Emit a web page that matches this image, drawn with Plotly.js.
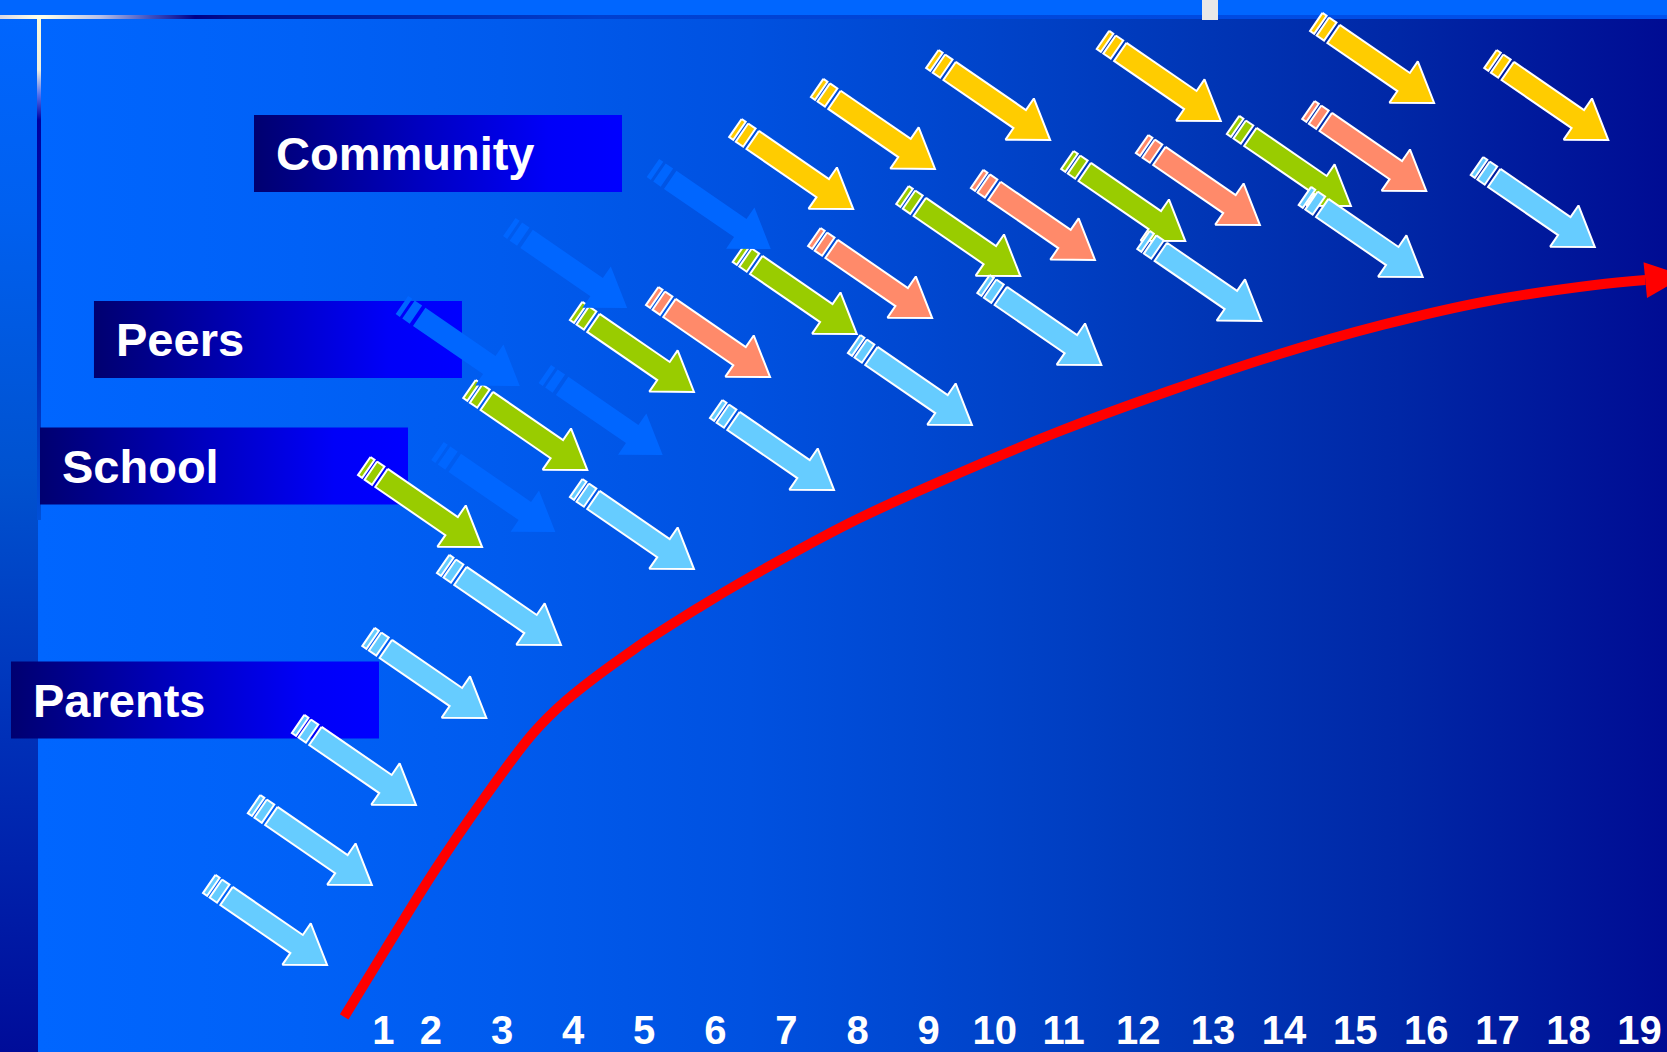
<!DOCTYPE html>
<html><head><meta charset="utf-8">
<script src="https://cdn.plot.ly/plotly-3.0.1.min.js"></script>
<style>html,body{margin:0;padding:0;overflow:hidden;background:#0066ff}#chart{width:1667px;height:1052px}</style>
</head><body><div id="chart"></div>
<script>
// ---------------- DATA ----------------
const ageLabels = ['1','2','3','4','5','6','7','8','9','10','11','12','13','14','15','16','17','18','19'];
const agePositions = [1.33,2,3,4,5,6,7,8,9,9.93,10.9,11.95,13,14,15,16,17,18,19];

const sources = ['Parents','School','Peers','Community'];
const sourceBoxX = [-3.906,-3.498,-2.739,-0.488];   // left edge of each label box (age units)
const sourceBoxY = [33.46,55.70,67.73,85.41];       // centre of each label box (influence units)

// arrow tips (age, influence)
const parentsX = [0.54,1.17,1.79,2.78,3.83,5.70,7.67,9.61,11.43,13.68,15.95,18.37];
const parentsY = [8.27,15.87,23.48,31.75,38.69,45.91,53.42,59.60,65.30,69.49,73.67,76.52];
const schoolX  = [2.72,4.20,5.70,7.99,10.29,12.61,14.94];
const schoolY  = [48.00,55.32,62.74,68.25,73.76,77.09,80.42];
const peersX   = [6.77,9.05,11.34,13.66,16.00];
const peersY   = [64.16,69.77,75.29,78.61,81.84];
const communityX = [7.94,9.09,10.71,13.11,16.11,18.56];
const communityY = [80.13,83.94,86.69,88.50,90.21,86.69];
const ghostX   = [3.25,3.75,4.76,5.26,6.78];
const ghostY   = [63.31,49.43,70.72,56.75,76.33];

// development curve
const curveX = [0.78,1.33,2.03,2.73,3.44,3.91,4.84,5.78,6.49,7.89,9.40,10.89,12.38,13.89,15.38,16.87,18.37,19.08];
const curveY = [3.33,9.41,17.02,23.95,30.32,33.46,38.21,42.30,45.15,50.29,54.94,59.13,62.83,66.25,69.11,71.39,72.91,73.38];

// ---------------- SCALES ----------------
const W = 1667, H = 1052;
const X0 = -4.0605, X1 = 19.3854, Y0 = 0, Y1 = 100;
const kx = W / (X1 - X0), ky = H / (Y1 - Y0);
const dX = px => X0 + px / kx;           // page px -> x data
const dY = py => Y1 - py / ky;           // page px -> y data

// ---------------- HELPERS ----------------
function rect(x0, x1, y0, y1, opts) {
  return Object.assign({
    type: 'scatter', mode: 'lines', fill: 'toself',
    x: [x0, x1, x1, x0, x0], y: [y0, y0, y1, y1, y0],
    line: {width: 0, color: 'rgba(0,0,0,0)'}, hoverinfo: 'skip', showlegend: false
  }, opts);
}
const A = {L: 143, ang: 34.5, body: 11, head: 25, headLen: 37, stripes: [[0,5],[8,17]], bodyStart: 21};
function arrowTrace(xs, ys, color, outline) {
  const a = A.ang * Math.PI / 180, ux = Math.cos(a), uy = Math.sin(a);
  const X = [], Y = [];
  xs.forEach((tx, i) => {
    const ty = ys[i];
    const P = (u, v) => {
      const px = (u - A.L) * ux - v * uy;
      const py = (u - A.L) * uy + v * ux;
      X.push(tx + px / kx); Y.push(ty - py / ky);
    };
    A.stripes.forEach(s => {
      P(s[0], -A.body); P(s[1], -A.body); P(s[1], A.body); P(s[0], A.body); P(s[0], -A.body);
      X.push(null); Y.push(null);
    });
    const hb = A.L - A.headLen;
    P(A.bodyStart, -A.body); P(hb, -A.body); P(hb, -A.head); P(A.L, 0);
    P(hb, A.head); P(hb, A.body); P(A.bodyStart, A.body); P(A.bodyStart, -A.body);
    X.push(null); Y.push(null);
  });
  return {type: 'scatter', mode: 'lines', fill: 'toself', x: X, y: Y, fillcolor: color,
    line: outline ? {color: '#ffffff', width: 2} : {width: 0, color: 'rgba(0,0,0,0)'},
    hoverinfo: 'skip', showlegend: false};
}

const traces = [];
// background horizontal gradient
traces.push(rect(X0, X1, Y0, Y1, {fillgradient: {type: 'horizontal', start: dX(0), stop: dX(W),
  colorscale: [[0,'#0066ff'],[40/W,'#0066ff'],[300/W,'#0061f7'],[500/W,'#005bee'],[750/W,'#0051e0'],
               [1000/W,'#0043c9'],[1200/W,'#0036b6'],[1400/W,'#0027a6'],[1.0,'#000c93']]}}));
// left strip vertical gradient
traces.push(rect(X0, dX(38), Y0, Y1, {fillgradient: {type: 'vertical', start: Y0, stop: Y1,
  colorscale: [[0,'#000c99'],[0.3,'#0030b8'],[0.55,'#0052d0'],[0.8,'#0060f0'],[1,'#0066ff']]}}));
// vertical glow line
traces.push(rect(dX(37), dX(41), dY(520), Y1, {fillgradient: {type: 'vertical', start: dY(520), stop: Y1,
  colorscale: [[0,'#0050d8'],[1-300/520,'#0018a8'],[1-120/520,'#0000a0'],[1-95/520,'#5070f0'],[1-70/520,'#f0f0e0'],[1,'#ffffd8']]}}));
// top band
traces.push(rect(X0, X1, dY(15), Y1, {fillcolor: '#0066ff'}));
// top line
traces.push(rect(X0, X1, dY(19), dY(15), {fillgradient: {type: 'horizontal', start: dX(0), stop: dX(W),
  colorscale: [[0,'#d8d8e4'],[36/W,'#ffffe8'],[44/W,'#ffffe8'],[100/W,'#b8c0e8'],[150/W,'#4050c0'],[195/W,'#000088'],
               [230/W,'#00108e'],[600/W,'#0040d0'],[1,'#0052ee']]}}));
// small grey tab
traces.push(rect(dX(1202), dX(1218), dY(20), Y1, {fillcolor: '#e8e8e8'}));

// label boxes
const boxW = 368 / kx, boxH = 38.5 / ky;
sources.forEach((s, i) => {
  traces.push(rect(sourceBoxX[i], sourceBoxX[i] + boxW, sourceBoxY[i] - boxH, sourceBoxY[i] + boxH, {
    fillgradient: {type: 'horizontal', start: sourceBoxX[i], stop: sourceBoxX[i] + boxW,
      colorscale: [[0,'#000070'],[0.45,'#0000c0'],[0.8,'#0000f8'],[1,'#0000ff']]}}));
});

// arrows
traces.push(arrowTrace(communityX, communityY, '#ffcc00', true));
traces.push(arrowTrace(peersX, peersY, '#ff8a6a', true));
traces.push(arrowTrace(schoolX, schoolY, '#99cc00', true));
traces.push(arrowTrace(parentsX, parentsY, '#66ccff', true));
traces.push(arrowTrace(ghostX, ghostY, '#0066ff', false));

// red curve
traces.push({type: 'scatter', mode: 'lines', x: curveX, y: curveY,
  line: {color: '#ff0000', width: 10, shape: 'spline', smoothing: 1}, hoverinfo: 'skip', showlegend: false});
// arrow head on the curve end (built from last segment direction)
(function () {
  const n = curveX.length;
  const ex = curveX[n-1], ey = curveY[n-1];
  const vx = (curveX[n-1] - curveX[n-2]) * kx, vy = -(curveY[n-1] - curveY[n-2]) * ky;
  const len = Math.hypot(vx, vy), ux = vx / len, uy = vy / len;
  const hl = 40, hw = 18;
  const pts = [[-uy*hw, ux*hw], [hl*ux, hl*uy], [uy*hw, -ux*hw]];
  const X = [], Y = [];
  pts.concat([pts[0]]).forEach(p => { X.push(ex + p[0] / kx); Y.push(ey - p[1] / ky); });
  traces.push({type: 'scatter', mode: 'lines', fill: 'toself', x: X, y: Y, fillcolor: '#ff0000',
    line: {width: 0, color: 'rgba(0,0,0,0)'}, hoverinfo: 'skip', showlegend: false});
})();

const annotations = sources.map((s, i) => ({
  text: s, x: sourceBoxX[i] + 20 / kx, y: sourceBoxY[i], xref: 'x', yref: 'y',
  xanchor: 'left', yanchor: 'middle', showarrow: false, yshift: 0,
  font: {family: 'Liberation Sans, Arial, sans-serif', size: 47, color: '#ffffff', weight: 'bold'}
}));

const layout = {
  width: W, height: H, margin: {l: 0, r: 0, t: 0, b: 0, pad: 0},
  paper_bgcolor: '#0066ff', plot_bgcolor: '#0066ff', showlegend: false,
  xaxis: {range: [X0, X1], tickmode: 'array', tickvals: agePositions, ticktext: ageLabels,
    ticklabelposition: 'inside', ticklabelstandoff: -3, ticks: '', showgrid: false, zeroline: false, showline: false,
    tickfont: {family: 'Liberation Sans, Arial, sans-serif', size: 40, color: '#ffffff', weight: 'bold'},
    fixedrange: true, layer: 'above traces'},
  yaxis: {range: [Y0, Y1], visible: false, fixedrange: true},
  annotations: annotations
};
Plotly.newPlot('chart', traces, layout, {staticPlot: true, displayModeBar: false});
</script></body></html>
